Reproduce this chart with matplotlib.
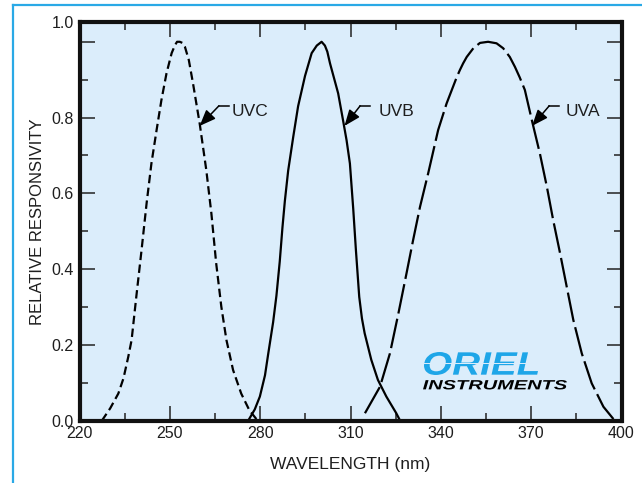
import matplotlib
matplotlib.use("Agg")
import matplotlib.pyplot as plt
from matplotlib.lines import Line2D
from matplotlib.patches import PathPatch, Rectangle
from matplotlib.textpath import TextPath
from matplotlib.font_manager import FontProperties
from matplotlib.transforms import Affine2D

plt.rcParams["font.family"] = ["Liberation Sans", "DejaVu Sans"]

# --------------------------------------------------------------------------- #
# Datos (longitud de onda en nm, respuesta relativa)
# --------------------------------------------------------------------------- #
UVC_NM = [227.4, 230.2, 232.9, 234.6, 236.2, 237.3, 238.9, 240.6, 242.3, 243.9,
          245.6, 247.2, 248.9, 250.6, 251.7, 252.4, 253.3, 254.2, 255.0, 256.3,
          257.7, 259.9, 262.1, 263.8, 265.4, 267.1, 268.8, 271.0, 273.7, 276.4,
          279.2]
UVC_V = [0.0, 0.033, 0.072, 0.112, 0.169, 0.213, 0.33, 0.45, 0.575, 0.68,
         0.767, 0.846, 0.917, 0.970, 0.991, 1.0, 1.0, 0.997, 0.987, 0.952,
         0.89, 0.785, 0.662, 0.547, 0.415, 0.301, 0.213, 0.134, 0.072, 0.028,
         0.0]

UVB_NM = [276.0, 278.2, 279.9, 281.6, 282.7, 284.3, 285.4, 286.5, 287.4, 288.2,
          289.3, 291.0, 292.6, 294.9, 297.1, 298.8, 300.4, 301.5, 302.3, 303.2,
          304.5, 305.9, 307.5, 308.7, 309.8, 310.9, 311.8, 312.9, 313.8, 314.7,
          316.9, 319.1, 321.9, 325.2, 326.5]
UVB_V = [0.0, 0.03, 0.064, 0.12, 0.178, 0.26, 0.33, 0.42, 0.51, 0.58,
         0.66, 0.75, 0.83, 0.91, 0.97, 0.99, 1.0, 0.99, 0.974, 0.943,
         0.905, 0.864, 0.794, 0.74, 0.679, 0.56, 0.45, 0.327, 0.27, 0.231,
         0.161, 0.108, 0.064, 0.02, 0.0]

UVA_NM = [314.8, 319.8, 323.1, 325.9, 328.6, 330.8, 333.1, 335.8, 339.1, 341.9,
          345.2, 346.3, 347.4, 348.6, 350.8, 353.0, 355.7, 358.5, 360.7, 362.9,
          364.6, 366.2, 367.9, 370.2, 372.9, 375.2, 377.3, 379.6, 381.8, 384.0,
          386.8, 390.1, 394.0, 397.8]
UVA_V = [0.02, 0.09, 0.178, 0.283, 0.389, 0.477, 0.565, 0.653, 0.767, 0.837,
         0.905, 0.925, 0.943, 0.96, 0.983, 0.997, 1.0, 0.996, 0.983, 0.96,
         0.934, 0.906, 0.873, 0.794, 0.705, 0.618, 0.53, 0.442, 0.354, 0.266,
         0.178, 0.099, 0.037, 0.0]

X_TICKS = [220, 250, 280, 310, 340, 370, 400]
Y_TICKS = [0.0, 0.2, 0.4, 0.6, 0.8, 1.0]
Y_TOP = 1.053
ETIQUETAS = ["UVC", "UVB", "UVA"]

# --------------------------------------------------------------------------- #
# Estilo
# --------------------------------------------------------------------------- #
FONDO = "#dbedfb"
AZUL = "#2aa9e6"
TXT = "#1e1e1e"
FS = 11.5

W, H = 642, 483
fig = plt.figure(figsize=(W / 100, H / 100), dpi=100)
fig.patch.set_facecolor("white")

# marco azul exterior (solo izquierda y arriba visibles)
fig.add_artist(Line2D([12.5 / W, 12.5 / W], [0, 1 - 5 / H], color=AZUL, lw=1.6))
fig.add_artist(Line2D([12.5 / W, 1], [1 - 5 / H, 1 - 5 / H], color=AZUL, lw=1.6))

ax = fig.add_axes([79.5 / W, 1 - 420.8 / H, (621.5 - 79.5) / W, (420.8 - 21.7) / H])
ax.set_facecolor(FONDO)

ax.plot(UVC_NM, UVC_V, color="black", lw=1.6, linestyle=(0, (3.8, 2.0)))
ax.plot(UVB_NM, UVB_V, color="black", lw=1.6)
ax.plot(UVA_NM, UVA_V, color="black", lw=1.6, linestyle=(0, (13.5, 2.4)))

ax.set_xlim(220, 400)
ax.set_ylim(0, Y_TOP)
ax.set_xticks(X_TICKS)
ax.set_xticks([x + 15 for x in X_TICKS[:-1]], minor=True)
ax.set_yticks(Y_TICKS + [Y_TOP])
ax.set_yticklabels(["0.0", "0.2", "0.4", "0.6", "0.8", "", "1.0"])
ax.set_yticks([0.1, 0.3, 0.5, 0.7, 0.9], minor=True)

ax.tick_params(which="both", direction="in", top=True, right=True,
               labelsize=FS, labelcolor=TXT, color="#222222", pad=4)
ax.tick_params(which="major", length=11, width=1.1)
ax.tick_params(which="minor", length=5.8, width=1.1)
for s in ax.spines.values():
    s.set_linewidth(3.0)
    s.set_color("#111111")

ax.set_xlabel("WAVELENGTH (nm)", fontsize=12.5, color=TXT, labelpad=11)
ax.set_ylabel("RELATIVE RESPONSIVITY", fontsize=12, color=TXT, labelpad=5)

# flechas con etiqueta: punta, codo, fin de la línea horizontal, texto
flechas = [
    ((259.9, 0.778), (266.3, 0.831), 269.6, 270.4),
    ((308.0, 0.778), (313.2, 0.831), 316.6, 319.3),
    ((370.3, 0.778), (376.0, 0.831), 379.3, 381.3),
]
for nombre, (punta, codo, fin, xt) in zip(ETIQUETAS, flechas):
    ax.plot([codo[0], fin], [codo[1], codo[1]], color="black", lw=1.1)
    ax.annotate("", xy=punta, xytext=codo,
                arrowprops=dict(arrowstyle="-|>,head_length=0.7,head_width=0.28",
                                color="black", lw=1.1, shrinkA=0, shrinkB=0,
                                mutation_scale=14))
    ax.text(xt, 0.815, nombre, fontsize=12.5, color=TXT, va="center", ha="left")


# logo ORIEL INSTRUMENTS (texto estirado a la caja del original)
def texto_en_caja(txt, x0, y0, x1, y1, color):
    fp = FontProperties(family="Liberation Sans", weight="bold", style="italic")
    tp = TextPath((0, 0), txt, size=10, prop=fp)
    bb = tp.get_extents()
    sx = (x1 - x0) / bb.width
    sy = (y1 - y0) / bb.height
    tr = Affine2D().translate(-bb.x0, -bb.y0).scale(sx / W, sy / H) \
        .translate(x0 / W, 1 - y1 / H) + fig.transFigure
    fig.add_artist(PathPatch(tp, transform=tr, facecolor=color, edgecolor="none"))


texto_en_caja("ORIEL", 424, 352, 538, 375, "#1ea6e8")
texto_en_caja("INSTRUMENTS", 423, 380, 567, 389.5, "black")
# franja horizontal del logotipo
fig.add_artist(Rectangle((420 / W, 1 - 364.2 / H), 122 / W, 1.6 / H,
                         transform=fig.transFigure, facecolor=FONDO,
                         edgecolor="none"))

fig.savefig("out.png", dpi=100)
